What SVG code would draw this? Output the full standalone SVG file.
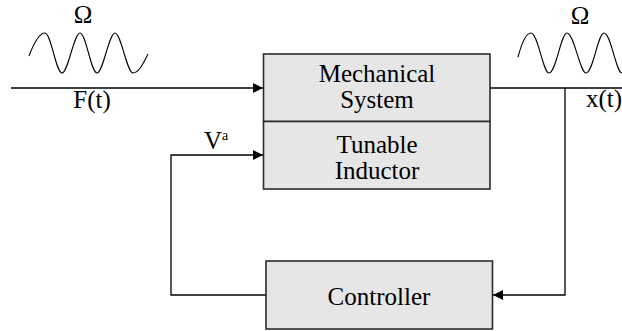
<svg xmlns="http://www.w3.org/2000/svg" width="622" height="331" viewBox="0 0 622 331">
<defs>
<marker id="arr" viewBox="0 0 10 10" refX="10" refY="5" markerWidth="10" markerHeight="10" markerUnits="userSpaceOnUse" orient="auto">
<path d="M0,0 L10,5 L0,10 Z" fill="#000"/>
</marker>
</defs>
<style>
.box{fill:#e6e6e6;stroke:#2b2b2b;stroke-width:1.6}
.ln{fill:none;stroke:#000;stroke-width:1.3}
.wave{fill:none;stroke:#000;stroke-width:1.1}
.t{font-family:"Liberation Serif","Times New Roman",serif;font-size:25px;text-anchor:middle;fill:#000}
.lbl{font-family:"Liberation Serif","Times New Roman",serif;font-size:25px;fill:#000}
</style>
<rect width="622" height="331" fill="#fff"/>
<g id="connectors">
<path class="ln" d="M11,88 L263,88" marker-end="url(#arr)"/>
<path class="ln" d="M490,88 L622,88"/>
<path class="ln" d="M565,88 L565,295 L493,295" marker-end="url(#arr)"/>
<path class="ln" d="M266,295 L171,295 L171,155 L263,155" marker-end="url(#arr)"/>
</g>
<g id="mechanical-system">
<rect class="box" x="263.5" y="54" width="226.5" height="67.5"/>
<text class="t" x="377" y="82">Mechanical</text>
<text class="t" x="377" y="107.5">System</text>
</g>
<g id="tunable-inductor">
<rect class="box" x="263.5" y="121.5" width="226.5" height="67.5"/>
<text class="t" x="377" y="153">Tunable</text>
<text class="t" x="377" y="179">Inductor</text>
</g>
<g id="controller">
<rect class="box" x="266" y="261" width="226.5" height="68"/>
<text class="t" x="379" y="305">Controller</text>
</g>
<g id="input-signal">
<path class="wave" d="M29,56 C35,40 40,33 45,33 C51,33 56,73 62,73 C68,73 74,33 80,33 C86,33 91,73 97,73 C103,73 109,33 115,33 C121,33 127,73 133,73 C139,73 144,62 148,54"/>
<text class="lbl" x="83" y="23" text-anchor="middle">Ω</text>
<text class="lbl" x="92" y="108" text-anchor="middle">F(t)</text>
</g>
<g id="output-signal">
<path class="wave" d="M518,57 C522,42 526,33 531,33 C538,33 543,73 549,73 C556,73 561,33 567,33 C574,33 580,73 586,73 C593,73 598,33 604,33 C611,33 616,73 622,73"/>
<text class="lbl" x="580" y="24" text-anchor="middle">Ω</text>
<text class="lbl" x="586" y="107">x(t)</text>
</g>
<g id="control-voltage">
<text class="lbl" x="204" y="149">V<tspan font-size="14" dy="-9">a</tspan></text>
</g>
</svg>
